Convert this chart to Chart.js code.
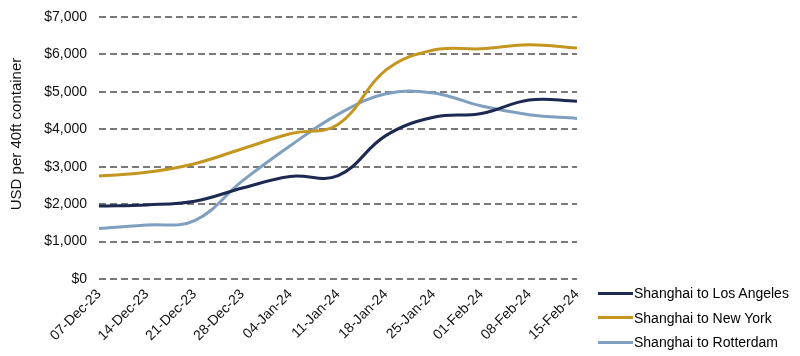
<!DOCTYPE html>
<html>
<head>
<meta charset="utf-8">
<script src="https://cdn.jsdelivr.net/npm/chart.js@4/dist/chart.umd.min.js"></script>
<style>
  html, body { margin: 0; padding: 0; background: #fff; }
  #wrap { position: relative; width: 800px; height: 356px; }
  #legend { position: absolute; left: 598px; top: 281px; font-family: "Liberation Sans", Arial, sans-serif; font-size: 14px; color: #000; }
  .item { display: flex; align-items: center; height: 24.5px; white-space: nowrap; }
  .swatch { width: 35px; height: 3px; margin-right: 1px; }
</style>
</head>
<body>
<div id="wrap">
  <canvas id="c" width="800" height="356"></canvas>
  <div id="legend"></div>
</div>
<script>
const categories = ["07-Dec-23","14-Dec-23","21-Dec-23","28-Dec-23","04-Jan-24","11-Jan-24","18-Jan-24","25-Jan-24","01-Feb-24","08-Feb-24","15-Feb-24"];
const seriesNames = ["Shanghai to Los Angeles","Shanghai to New York","Shanghai to Rotterdam"];
const losAngeles = [1950, 1980, 2080, 2430, 2740, 2760, 3830, 4320, 4420, 4780, 4750];
const newYork    = [2750, 2850, 3080, 3480, 3880, 4130, 5580, 6120, 6150, 6260, 6170];
const rotterdam  = [1350, 1440, 1560, 2620, 3560, 4400, 4950, 4970, 4620, 4390, 4290];
const yTicks = [0, 1000, 2000, 3000, 4000, 5000, 6000, 7000];
const yTitle = "USD per 40ft container";

const colors = ["#1c2952", "#c4961f", "#7f9fc0"];
const FONT = "'Liberation Sans', Arial, sans-serif";

const datasets = [losAngeles, newYork, rotterdam].map((d, i) => ({
  label: seriesNames[i],
  data: d,
  borderColor: colors[i],
  backgroundColor: colors[i],
  borderWidth: 3,
  pointRadius: 0,
  tension: 0.4,
  fill: false,
  order: i
}));

const yTitlePlugin = {
  id: 'yTitle',
  afterDraw(chart) {
    const ctx = chart.ctx;
    ctx.save();
    ctx.translate(17, 134);
    ctx.rotate(-Math.PI / 2);
    ctx.font = "15px " + FONT;
    ctx.fillStyle = '#111';
    ctx.textAlign = 'center';
    ctx.textBaseline = 'middle';
    ctx.fillText(yTitle, 0, 0);
    ctx.restore();
  }
};

new Chart(document.getElementById('c'), {
  type: 'line',
  data: { labels: categories, datasets },
  plugins: [yTitlePlugin],
  options: {
    responsive: false,
    animation: false,
    layout: { padding: { left: 0, right: 223, top: 17, bottom: 0 } },
    plugins: { legend: { display: false }, tooltip: { enabled: false } },
    scales: {
      x: {
        offset: false,
        grid: { display: false, drawTicks: false },
        border: { display: false },
        ticks: {
          minRotation: 45, maxRotation: 45, autoSkip: false, padding: 7,
          color: '#111', font: { family: FONT, size: 14 }
        },
        afterFit: (s) => { s.height = 77; s.paddingLeft = 0; s.paddingRight = 0; }
      },
      y: {
        min: 0, max: 7000,
        afterBuildTicks: (s) => { s.ticks = yTicks.map(v => ({ value: v })); },
        grid: { color: '#7a7a7a', lineWidth: 2, drawTicks: false },
        border: { display: false, dash: [7, 4] },
        ticks: {
          padding: 12, color: '#111', font: { family: FONT, size: 14 },
          callback: (v) => '$' + v.toLocaleString('en-US')
        },
        afterFit: (s) => { s.width = 99; s.paddingTop = 0; s.paddingBottom = 0; }
      }
    }
  }
});

const leg = document.getElementById('legend');
seriesNames.forEach((n, i) => {
  const it = document.createElement('div'); it.className = 'item';
  const sw = document.createElement('span'); sw.className = 'swatch'; sw.style.background = colors[i];
  const tx = document.createElement('span'); tx.textContent = n;
  it.appendChild(sw); it.appendChild(tx); leg.appendChild(it);
});
</script>
</body>
</html>
